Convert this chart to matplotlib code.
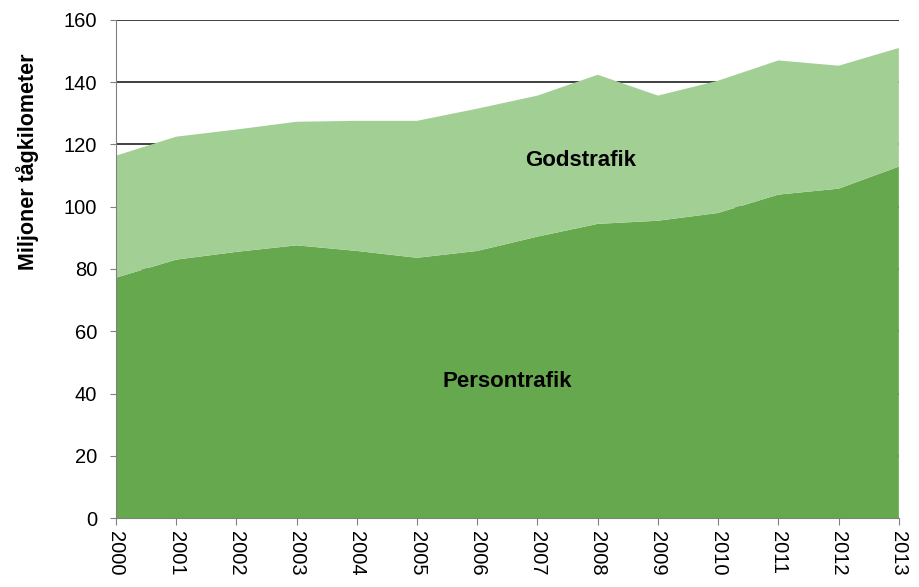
import matplotlib
matplotlib.use("Agg")
import matplotlib.pyplot as plt
import numpy as np

years = np.arange(2000, 2014)
persontrafik = [77.2, 83.0, 85.5, 87.6, 85.8, 83.6, 85.8, 90.4, 94.5, 95.5, 98.0, 103.9, 105.8, 112.9]
totalt = [116.4, 122.5, 124.8, 127.3, 127.6, 127.6, 131.5, 135.7, 142.4, 135.7, 140.5, 147.0, 145.3, 151.0]
godstrafik = [t - p for t, p in zip(totalt, persontrafik)]

plt.rcParams["font.family"] = ["Liberation Sans", "DejaVu Sans"]

fig = plt.figure(figsize=(9.2, 5.87), dpi=100)
ax = fig.add_axes([0.126, 0.1175, 0.851, 0.8485])

ax.stackplot(years, persontrafik, godstrafik, colors=["#66a84e", "#a2cf94"], zorder=2)

ax.set_xlim(2000, 2013)
ax.set_ylim(0, 160)
ax.set_yticks(range(0, 161, 20))
ax.set_xticks(years)
ax.set_xticklabels([str(y) for y in years], rotation=270, fontsize=14.5)
ax.tick_params(axis="y", labelsize=14.5, direction="out", length=4.5, color="#808080", pad=9)
ax.tick_params(axis="x", direction="out", length=5, color="#808080", pad=4)
ax.yaxis.grid(True, color="#404040", linewidth=1.4, zorder=0)
ax.set_axisbelow(True)

for s in ["top", "right"]:
    ax.spines[s].set_visible(False)
for s in ["left", "bottom"]:
    ax.spines[s].set_color("#808080")
    ax.spines[s].set_zorder(3)

fig.text(0.030, 0.724, "Miljoner tågkilometer", fontsize=15.5, fontweight="bold",
         rotation=90, ha="center", va="center")

narrow = ["Liberation Sans Narrow", "Liberation Sans", "DejaVu Sans"]
ax.text(2007.72, 115, "Godstrafik", fontsize=16, fontweight="bold", ha="center", va="center",
        family=narrow)
ax.text(2006.5, 44, "Persontrafik", fontsize=16, fontweight="bold", ha="center", va="center",
        family=narrow)

fig.savefig("out.png", dpi=100)
